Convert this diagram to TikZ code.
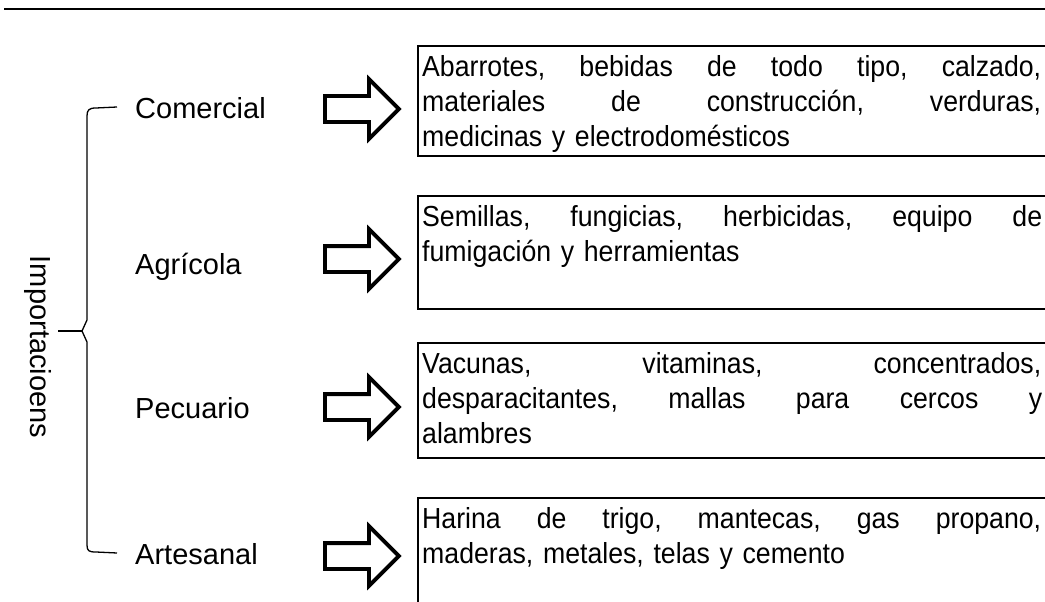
\documentclass[tikz,border=0pt]{standalone}
\usepackage{fontspec}
\setmainfont{Liberation Sans}
\newfontfamily\boxfont[FakeStretch=0.92]{Liberation Sans}
\usetikzlibrary{shapes.arrows}
\newcommand{\jline}[2][619pt]{\leavevmode\hbox to #1{#2}}
\begin{document}
\begin{tikzpicture}[x=1pt,y=-1pt,
  lbl/.style={font=\fontsize{29}{35}\selectfont, anchor=base west, inner sep=0pt},
  boxtext/.style={font=\boxfont\fontsize{29}{35}\selectfont, anchor=north west, inner sep=0pt, text width=625pt, align=left},
  itembox/.style={draw, line width=1.6pt, anchor=north west, minimum width=650pt, inner sep=0pt},
  blockarrow/.style={single arrow, draw, line width=3.8pt, minimum height=74pt, inner sep=11pt,
     single arrow head extend=17pt, single arrow tip angle=90, anchor=west},
  brace/.style={line width=1.3pt}]
\useasboundingbox (0,0) rectangle (1045,602);

% top rule
\coordinate (r0) at (4,9);
\coordinate (r1) at (543,9);
\coordinate (r2) at (1045,9);
\draw[line width=2.6pt] (r0) -- (r1);
\draw[line width=1.4pt] (r1) -- (r2);

% rotated title
\node[font=\fontsize{29}{35}\selectfont, rotate=-90, inner sep=0pt] (imp) at (38,347) {Importacioens};

% labels
\node[lbl] (com) at (135,118) {Comercial};
\node[lbl] (agr) at (135,274) {Agrícola};
\node[lbl] (pec) at (135,418) {Pecuario};
\node[lbl] (art) at (135,564) {Artesanal};

% bracket
\coordinate (bt) at (117,107);
\coordinate (bb) at (117,553);
\coordinate (btip) at (58,331);
\draw[brace] (bt) -- (96,108) .. controls (89,108) and (87,110) .. (87,116)
   -- (87,320) -- (82,331) -- (87,342) -- (87,545)
   .. controls (87,551) and (89,552) .. (96,552) -- (bb);
\draw[brace] (82,331) -- (btip);

% block arrows
\node[blockarrow] (a1) at (323,109) {};
\node[blockarrow] (a2) at (323,259) {};
\node[blockarrow] (a3) at (323,407) {};
\node[blockarrow] (a4) at (323,556) {};

% boxes
\node[itembox, minimum height=110pt] (b1) at (417,45) {};
\node[itembox, minimum height=113pt] (b2) at (417,195) {};
\node[itembox, minimum height=115pt] (b3) at (417,342) {};
\node[itembox, minimum height=130pt] (b4) at (417,497) {};

\node[boxtext] (t1) at ([xshift=5pt,yshift=-10pt]b1.north west)
  {\jline{Abarrotes,\hfill bebidas\hfill de\hfill todo\hfill tipo,\hfill calzado,}\\
   \jline{materiales\hfill de\hfill construcción,\hfill verduras,}\\
   medicinas y electrodomésticos};
\node[boxtext] (t2) at ([xshift=5pt,yshift=-10pt]b2.north west)
  {\jline[620pt]{Semillas,\hfill fungicias,\hfill herbicidas,\hfill equipo\hfill de}\\
   fumigación y herramientas};
\node[boxtext] (t3) at ([xshift=5pt,yshift=-10pt]b3.north west)
  {\jline{Vacunas,\hfill vitaminas,\hfill concentrados,}\\
   \jline[620pt]{desparacitantes,\hfill mallas\hfill para\hfill cercos\hfill y}\\
   alambres};
\node[boxtext] (t4) at ([xshift=5pt,yshift=-10pt]b4.north west)
  {\jline{Harina\hfill de\hfill trigo,\hfill mantecas,\hfill gas\hfill propano,}\\
   maderas, metales, telas y cemento};
\end{tikzpicture}
\end{document}
